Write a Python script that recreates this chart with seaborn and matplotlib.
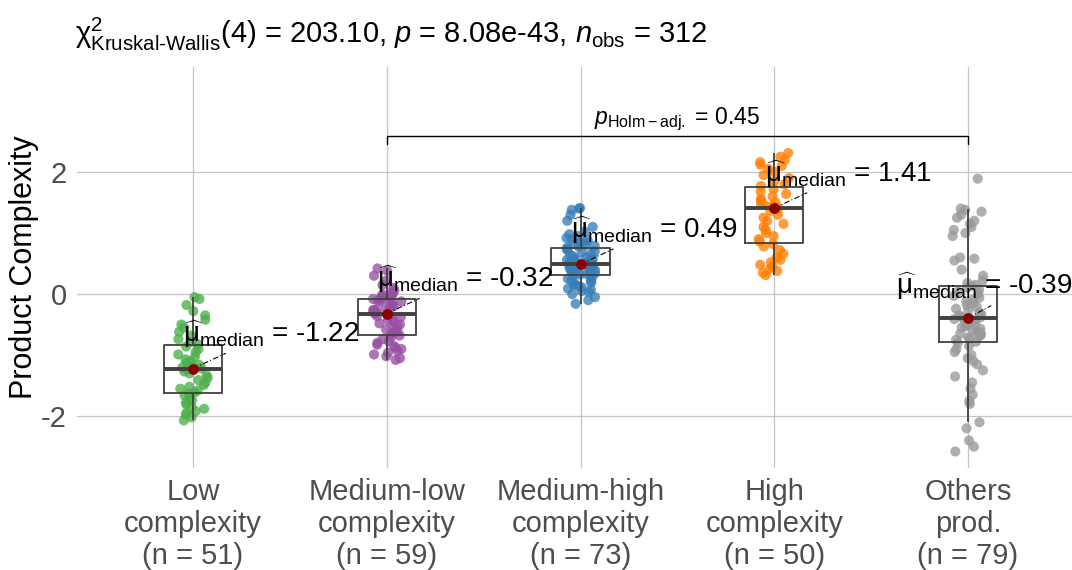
import numpy as np
import pandas as pd
import matplotlib
matplotlib.use("Agg")
import matplotlib.pyplot as plt
import seaborn as sns

# ---------------- data ----------------
groups = ["Low\ncomplexity", "Medium-low\ncomplexity", "Medium-high\ncomplexity",
          "High\ncomplexity", "Others\nprod."]

low = [-0.05, -0.08, -0.18, -0.28, -0.35, -0.42, -0.50, -0.55, -0.62, -0.68, -0.74, -0.78,
       -0.82, -0.86, -0.90, -0.95, -0.99, -1.03, -1.07, -1.10, -1.13, -1.16, -1.18, -1.20, -1.21,
       -1.22,
       -1.24, -1.27, -1.30, -1.33, -1.37, -1.41, -1.45, -1.49, -1.52, -1.55, -1.58, -1.61,
       -1.63, -1.66, -1.70, -1.74, -1.78, -1.81, -1.85, -1.88, -1.92, -1.95, -1.98, -2.02, -2.07]

medium_low = [0.42, 0.38, 0.30, 0.22, 0.15, 0.10, 0.06, 0.03, 0.00, -0.01, -0.02, -0.03, -0.05, -0.06,
              -0.07, -0.08, -0.10, -0.12, -0.14, -0.16, -0.18, -0.20, -0.22, -0.24, -0.26, -0.27, -0.29, -0.30, -0.31,
              -0.32,
              -0.34, -0.36, -0.38, -0.40, -0.43, -0.45, -0.48, -0.50, -0.53, -0.55, -0.58, -0.60, -0.63, -0.65, -0.68,
              -0.71, -0.74, -0.77, -0.80, -0.83, -0.85, -0.88, -0.90, -0.93, -0.96, -0.99, -1.02, -1.05, -1.08]

medium_high = [1.41, 1.40, 1.38, 1.30, 1.20, 1.10, 1.02, 0.98, 0.95, 0.92, 0.90, 0.88, 0.86, 0.84, 0.82, 0.80, 0.79, 0.78,
               0.76, 0.74, 0.72, 0.70, 0.68, 0.66, 0.64, 0.62, 0.60, 0.58, 0.57, 0.56, 0.55, 0.54, 0.53, 0.52, 0.51, 0.50,
               0.49,
               0.48, 0.47, 0.46, 0.45, 0.44, 0.43, 0.42, 0.41, 0.40, 0.39, 0.38, 0.37, 0.36, 0.35, 0.34, 0.33, 0.32, 0.31,
               0.29, 0.27, 0.25, 0.23, 0.21, 0.19, 0.17, 0.15, 0.13, 0.11, 0.09, 0.07, 0.05, 0.03, 0.00, -0.05, -0.10, -0.16]

high = [2.31, 2.25, 2.20, 2.16, 2.12, 2.10, 2.05, 2.00, 1.95, 1.90, 1.85, 1.80,
        1.77, 1.72, 1.68, 1.64, 1.60, 1.56, 1.53, 1.50, 1.48, 1.46, 1.44, 1.43, 1.42,
        1.40, 1.36, 1.30, 1.25, 1.20, 1.15, 1.10, 1.05, 1.00, 0.95, 0.90, 0.86, 0.82,
        0.78, 0.72, 0.66, 0.60, 0.56, 0.52, 0.48, 0.45, 0.42, 0.38, 0.35, 0.31]

others = [1.89, 1.40, 1.38, 1.35, 1.30, 1.25, 1.20, 1.15, 1.10, 1.05, 1.00, 0.95, 0.60, 0.58, 0.55, 0.40, 0.30, 0.22, 0.18,
          0.15, 0.13, 0.10, 0.07, 0.04, 0.01, -0.03, -0.06, -0.09, -0.12, -0.15, -0.18, -0.21, -0.24, -0.27, -0.30, -0.33, -0.35, -0.37, -0.38,
          -0.39,
          -0.41, -0.43, -0.45, -0.47, -0.49, -0.51, -0.53, -0.55, -0.57, -0.59, -0.61, -0.63, -0.65, -0.67, -0.69, -0.71, -0.73, -0.75, -0.78,
          -0.80, -0.85, -0.90, -0.95, -1.00, -1.05, -1.10, -1.15, -1.25, -1.35, -1.45, -1.55, -1.65, -1.75, -1.80, -2.10, -2.20, -2.40, -2.50, -2.58]

values = [low, medium_low, medium_high, high, others]
colors = ["#4DAF4A", "#984EA3", "#377EB8", "#FF7F00", "#999999"]

kw_df = 4
kw_stat = "203.10"
kw_p = "8.08e-43"
pair_groups = (1, 4)
pair_p = "0.45"

# ---------------- styling ----------------
sns.set_style("white")
plt.rcParams["font.family"] = ["Liberation Sans", "DejaVu Sans"]
plt.rcParams["mathtext.fontset"] = "custom"
plt.rcParams["mathtext.rm"] = "Liberation Sans"
plt.rcParams["mathtext.it"] = "Liberation Sans:italic"
plt.rcParams["mathtext.bf"] = "Liberation Sans:bold"
plt.rcParams["axes.unicode_minus"] = False
plt.rcParams["text.color"] = "black"

df = pd.concat([pd.DataFrame({"group": g, "value": v}) for g, v in zip(groups, values)],
               ignore_index=True)

fig = plt.figure(figsize=(10.72, 5.70), dpi=100)
W, H = 1072, 570
ax = fig.add_axes([76.75 / W, (H - 468) / H, (1084.25 - 76.75) / W, (468 - 67) / H])

np.random.seed(3)
sns.stripplot(data=df, x="group", y="value", hue="group", order=groups, hue_order=groups,
              palette=colors, jitter=0.08, size=7.3, alpha=0.78, linewidth=0,
              legend=False, ax=ax, zorder=2)
sns.boxplot(data=df, x="group", y="value", order=groups, width=0.3, fill=False,
            color="#404040", linewidth=1.3, showcaps=False, showfliers=False,
            medianprops=dict(linewidth=2.8, color="#404040"), ax=ax, zorder=3)

for i, v in enumerate(values):
    med = float(np.median(v))
    ax.scatter([i], [med], s=60, color="#8B0000", zorder=6, linewidths=0)
    if i < 4:
        dx, dy = -0.05, 0.43
        ex, ey = 0.17, 0.25
    else:
        dx, dy = -0.37, 0.39
        ex, ey = 0.12, 0.2
    ax.plot([i, i + ex], [med, med + ey], color="black", lw=0.8,
            ls=(0, (5, 2, 1, 2)), zorder=5)
    ax.text(i + dx, med + dy, r"$\widehat{\mathrm{\mu}}_{\mathrm{median}}$" + f" = {med:.2f}",
            ha="left", va="baseline", fontsize=20, color="black", zorder=7, clip_on=False)

# pairwise bracket
a, b = pair_groups
ax.plot([a, a, b, b], [2.46, 2.59, 2.59, 2.46], color="black", lw=1.0, zorder=4)
ax.text((a + b) / 2, 2.79, r"$p_{\mathrm{Holm-adj.}}$" + f" = {pair_p}",
        ha="center", va="baseline", fontsize=16.5, color="black")

ns = [len(v) for v in values]
ax.set_xticks(range(len(groups)))
ax.set_xticklabels([f"{g}\n(n = {n})" for g, n in zip(groups, ns)],
                   fontsize=21, color="#4D4D4D", linespacing=1.18)
ax.set_yticks([-2, 0, 2])
ax.set_yticklabels(["-2", "0", "2"], fontsize=21, color="#4D4D4D")
ax.tick_params(axis="both", length=4, width=0.9, color="#333333", pad=3)
ax.set_xlim(-0.6, 4.6)
ax.set_ylim(-2.85, 3.72)
ax.set_xlabel("")
ax.set_ylabel("Product Complexity", fontsize=22, color="black", labelpad=1.5)
ax.grid(True, color="#C4C4C4", lw=0.9)
ax.set_axisbelow(True)
for s in ax.spines.values():
    s.set_visible(False)

fig.text(75 / W, (H - 43) / H,
         r"$\mathrm{\chi}^2_{\mathrm{Kruskal\text{-}Wallis}}$" + f"({kw_df}) = {kw_stat}, " +
         r"$p$" + f" = {kw_p}, " + r"$n_{\mathrm{obs}}$" + f" = {sum(ns)}",
         ha="left", va="baseline", fontsize=21, color="black")

fig.savefig("out.png", dpi=100)
